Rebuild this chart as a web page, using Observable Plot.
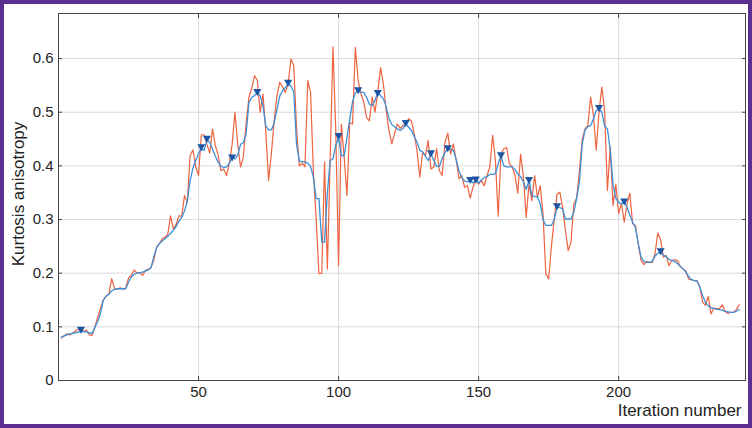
<!DOCTYPE html>
<html>
<head>
<meta charset="utf-8">
<script src="https://cdn.jsdelivr.net/npm/d3@7"></script>
<script src="https://cdn.jsdelivr.net/npm/@observablehq/plot@0.6"></script>
<style>
  html, body { margin: 0; padding: 0; background: #fff; }
  #wrap { position: relative; width: 752px; height: 428px; overflow: hidden; }
  #wrap svg { position: absolute; left: 0; top: 0; }
  #border { position: absolute; left: 0; top: 0; width: 752px; height: 428px; box-sizing: border-box; border: 4px solid #5c2e91; pointer-events: none; }
</style>
</head>
<body>
<div id="wrap"><div id="border"></div></div>
<script>
// Iteration indices 1..243
const rawValues = [
  0.079,0.083,0.087,0.085,0.088,0.092,0.095,0.099,0.091,0.094,
  0.085,0.084,0.100,0.118,0.135,0.150,0.157,0.161,0.190,0.171,
  0.170,0.173,0.170,0.172,0.191,0.196,0.206,0.200,0.201,0.196,
  0.205,0.207,0.210,0.224,0.248,0.255,0.264,0.267,0.272,0.307,
  0.283,0.291,0.307,0.306,0.345,0.332,0.419,0.430,0.398,0.382,
  0.458,0.458,0.440,0.424,0.469,0.438,0.420,0.391,0.394,0.382,
  0.405,0.440,0.500,0.440,0.398,0.416,0.480,0.528,0.545,0.568,
  0.559,0.500,0.534,0.466,0.373,0.422,0.484,0.530,0.556,0.547,
  0.537,0.553,0.599,0.587,0.470,0.400,0.405,0.398,0.559,0.537,
  0.391,0.301,0.199,0.200,0.407,0.208,0.410,0.622,0.466,0.214,
  0.478,0.416,0.345,0.481,0.478,0.621,0.559,0.535,0.519,0.490,
  0.484,0.528,0.500,0.537,0.583,0.553,0.503,0.466,0.441,0.460,
  0.478,0.470,0.475,0.478,0.488,0.484,0.460,0.429,0.379,0.425,
  0.419,0.447,0.394,0.398,0.432,0.391,0.382,0.444,0.461,0.422,
  0.441,0.410,0.376,0.382,0.360,0.363,0.340,0.360,0.373,0.366,
  0.373,0.363,0.382,0.398,0.457,0.410,0.306,0.422,0.432,0.434,
  0.404,0.398,0.382,0.349,0.422,0.379,0.304,0.366,0.335,0.382,
  0.342,0.363,0.311,0.199,0.189,0.250,0.300,0.347,0.351,0.323,
  0.280,0.242,0.258,0.329,0.340,0.390,0.450,0.469,0.475,0.528,
  0.494,0.429,0.500,0.547,0.503,0.354,0.436,0.326,0.366,0.311,
  0.330,0.295,0.329,0.349,0.292,0.289,0.255,0.224,0.216,0.222,
  0.220,0.220,0.237,0.275,0.262,0.230,0.233,0.214,0.224,0.225,
  0.224,0.212,0.208,0.204,0.189,0.188,0.186,0.186,0.174,0.146,
  0.140,0.157,0.124,0.135,0.134,0.134,0.141,0.129,0.125,0.127,
  0.127,0.132,0.141
];
const smoothValues = [
  0.081,0.083,0.085,0.087,0.088,0.089,0.090,0.091,0.091,0.090,
  0.089,0.088,0.099,0.110,0.125,0.150,0.157,0.161,0.167,0.170,
  0.171,0.171,0.171,0.171,0.183,0.193,0.198,0.200,0.201,0.202,
  0.204,0.206,0.210,0.230,0.247,0.255,0.260,0.264,0.269,0.274,
  0.280,0.287,0.297,0.304,0.316,0.335,0.373,0.396,0.410,0.423,
  0.432,0.429,0.448,0.444,0.431,0.418,0.407,0.399,0.397,0.398,
  0.405,0.416,0.413,0.420,0.440,0.443,0.460,0.518,0.528,0.531,
  0.537,0.531,0.512,0.475,0.467,0.467,0.480,0.505,0.530,0.540,
  0.546,0.553,0.549,0.538,0.440,0.409,0.408,0.407,0.405,0.399,
  0.379,0.339,0.339,0.258,0.258,0.350,0.410,0.413,0.438,0.453,
  0.419,0.419,0.453,0.487,0.520,0.536,0.540,0.537,0.537,0.528,
  0.515,0.512,0.522,0.537,0.531,0.525,0.510,0.488,0.477,0.473,
  0.469,0.466,0.470,0.478,0.472,0.466,0.455,0.444,0.429,0.426,
  0.418,0.410,0.422,0.410,0.399,0.399,0.414,0.425,0.432,0.431,
  0.429,0.412,0.390,0.378,0.372,0.370,0.373,0.368,0.375,0.368,
  0.374,0.378,0.380,0.384,0.384,0.385,0.404,0.419,0.400,0.398,
  0.398,0.398,0.393,0.385,0.380,0.370,0.356,0.373,0.345,0.343,
  0.342,0.330,0.300,0.289,0.289,0.289,0.300,0.323,0.322,0.320,
  0.301,0.301,0.301,0.314,0.339,0.370,0.440,0.467,0.473,0.475,
  0.488,0.503,0.506,0.500,0.474,0.469,0.430,0.365,0.340,0.332,
  0.329,0.333,0.323,0.308,0.295,0.285,0.255,0.230,0.222,0.220,
  0.220,0.222,0.232,0.237,0.239,0.234,0.230,0.226,0.224,0.222,
  0.218,0.213,0.208,0.202,0.194,0.188,0.186,0.185,0.174,0.158,
  0.146,0.139,0.136,0.134,0.133,0.132,0.131,0.129,0.128,0.127,
  0.127,0.129,0.132
];
const peakIters = [8, 51, 53, 62, 71, 82, 100, 107, 114, 124, 133, 139, 147, 149, 158, 168, 178, 193, 202, 215];
const peakValues = [0.096, 0.436, 0.452, 0.417, 0.539, 0.556, 0.457, 0.542, 0.537, 0.481, 0.425, 0.434, 0.375, 0.376, 0.421, 0.375, 0.326, 0.509, 0.335, 0.242];
const xTicks = [50, 100, 150, 200];
const yTicks = [0, 0.1, 0.2, 0.3, 0.4, 0.5, 0.6];
const xTitle = "Iteration number";
const yTitle = "Kurtosis anisotropy";

const raw = rawValues.map((v, i) => ({iter: i + 1, value: v}));
const smooth = smoothValues.map((v, i) => ({iter: i + 1, value: v}));
const peaks = peakIters.map((x, i) => ({iter: x, value: peakValues[i]}));

const chart = Plot.plot({
  width: 752,
  height: 428,
  marginLeft: 58,
  marginRight: 7,
  marginTop: 13,
  marginBottom: 48,
  style: {fontFamily: "'Liberation Sans', Arial, sans-serif", fontSize: "15px", color: "#222", background: "transparent"},
  x: {domain: [0, 245.3]},
  y: {domain: [0, 0.684]},
  marks: [
    Plot.gridX(xTicks, {stroke: "#d9d9de", strokeOpacity: 1}),
    Plot.gridY(yTicks, {stroke: "#d9d9de", strokeOpacity: 1}),
    Plot.axisX({ticks: xTicks, tickSize: -4, tickPadding: 10, stroke: "#444", fontSize: 15, label: null}),
    Plot.axisX({anchor: "top", ticks: xTicks, tickSize: -4, tickFormat: () => "", label: null, stroke: "#444"}),
    Plot.axisY({ticks: yTicks, tickSize: -4, tickPadding: 9, stroke: "#444", fontSize: 15, tickFormat: d => d === 0 ? "0" : d3.format(".1f")(d), label: null}),
    Plot.axisY({anchor: "right", ticks: yTicks, tickSize: -4, tickFormat: () => "", label: null, stroke: "#444"}),
    Plot.frame({stroke: "#444"}),
    Plot.text([xTitle], {frameAnchor: "bottom-right", text: d => d, textAnchor: "end", lineAnchor: "middle", dx: -4, dy: 30, fontSize: 17, fill: "#222"}),
    Plot.text([yTitle], {frameAnchor: "left", text: d => d, textAnchor: "middle", lineAnchor: "middle", rotate: -90, dx: -40, dy: -3, fontSize: 17, fill: "#222"}),
    Plot.line(raw, {x: "iter", y: "value", stroke: "#ee6340", strokeWidth: 1.2}),
    Plot.line(smooth, {x: "iter", y: "value", stroke: "#3c8fd8", strokeWidth: 1.3}),
    Plot.dot(peaks, {x: "iter", y: "value", symbol: "triangle", rotate: 180, r: 3, fill: "#1d55a3", stroke: null})
  ]
});
const wrap = document.getElementById("wrap");
wrap.insertBefore(chart, wrap.firstChild);
</script>
</body>
</html>
